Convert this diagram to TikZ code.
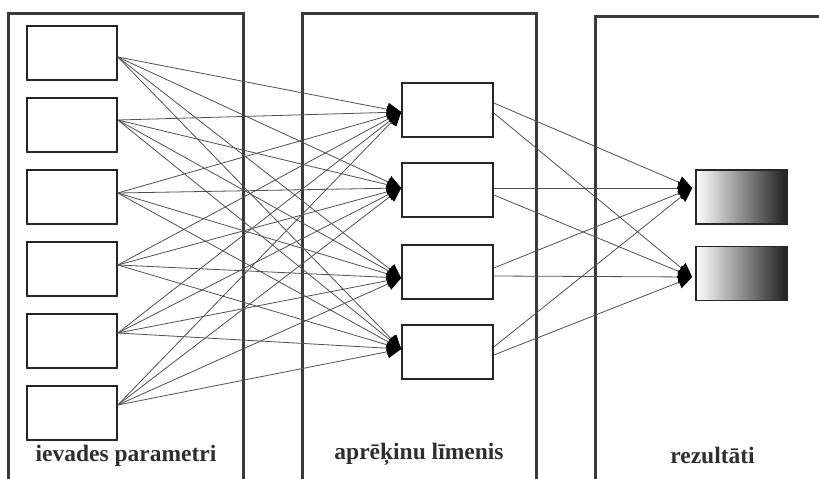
\documentclass[tikz,border=0pt]{standalone}
\usepackage{fontspec}
\setmainfont{Liberation Serif}
\usetikzlibrary{arrows.meta}
\definecolor{frame}{HTML}{3A3A3A}
\definecolor{wire}{HTML}{505050}
\definecolor{lbl}{HTML}{2E2E2E}
\tikzset{
  container/.style={draw=frame, line width=3pt},
  inbox/.style={draw=black!85, line width=1.6pt, fill=white, minimum width=90pt, minimum height=54pt, inner sep=0pt},
  outbox/.style={draw=black!85, line width=1.6pt, left color=white, right color=black!88, minimum width=91pt, minimum height=54pt, inner sep=0pt},
  conn/.style={draw=wire, line width=0.8pt, -{Triangle[length=14pt,width=13pt,color=black]}},
  title/.style={anchor=base, text=lbl, font=\fontsize{23.5}{28}\selectfont\bfseries, inner sep=0pt}
}
\begin{document}
\begin{tikzpicture}[x=1pt,y=-1pt]
\useasboundingbox (0,0) rectangle (819,479);
% containers
\draw[container] (8,482) -- (8,13) -- (243,13) -- (243,482);
\draw[container] (302,482) -- (302,13) -- (536,13) -- (536,482);
\draw[container] (595,482) -- (595,16) -- (824,16);
% input boxes
\node[inbox] (l1) at (72,53) {};
\node[inbox] (l2) at (72,125) {};
\node[inbox] (l3) at (72,197) {};
\node[inbox] (l4) at (72,269) {};
\node[inbox] (l5) at (72,341) {};
\node[inbox] (l6) at (72,413) {};
% middle boxes
\node[inbox, minimum width=91pt] (m1) at (447.5,110) {};
\node[inbox, minimum width=91pt] (m2) at (447.5,190) {};
\node[inbox, minimum width=91pt] (m3) at (447.5,272) {};
\node[inbox, minimum width=91pt] (m4) at (447.5,352) {};
% output boxes
\node[outbox] (o1) at (741.5,197) {};
\node[outbox] (o2) at (741.5,273.5) {};
% ports
\coordinate (l1o) at ([yshift=-4pt]l1.east);
\coordinate (l2o) at ([yshift=5pt]l2.east);
\coordinate (l3o) at ([yshift=4pt]l3.east);
\coordinate (l4o) at ([yshift=4pt]l4.east);
\coordinate (l5o) at ([yshift=8pt]l5.east);
\coordinate (l6o) at ([yshift=8pt]l6.east);
\coordinate (m1i) at ([yshift=-2pt]m1.west);
\coordinate (m2i) at ([yshift=2pt]m2.west);
\coordinate (m3i) at ([yshift=-6pt]m3.west);
\coordinate (m4i) at ([yshift=3pt]m4.west);
\coordinate (m1a) at ([yshift=7pt]m1.east);
\coordinate (m1b) at ([yshift=-3pt]m1.east);
\coordinate (m2a) at ([yshift=2pt]m2.east);
\coordinate (m2b) at ([yshift=-5pt]m2.east);
\coordinate (m3a) at ([yshift=4pt]m3.east);
\coordinate (m3b) at ([yshift=-4pt]m3.east);
\coordinate (m4a) at ([yshift=5pt]m4.east);
\coordinate (m4b) at ([yshift=-3pt]m4.east);
\coordinate (o1i) at ([xshift=-3pt,yshift=9pt]o1.west);
\coordinate (o2i) at ([xshift=-3pt,yshift=-3.5pt]o2.west);
% connectors input -> middle
\foreach \i in {1,...,6}{
  \foreach \j in {1,...,4}{
    \draw[conn] (l\i o) -- (m\j i);
  }
}
% connectors middle -> output
\foreach \j in {1,...,4}{
  \draw[conn] (m\j a) -- (o1i);
  \draw[conn] (m\j b) -- (o2i);
}
% labels
\node[title] (t1) at (126,461) {ievades parametri};
\node[title] (t2) at (419,459) {aprēķinu līmenis};
\node[title] (t3) at (712.5,463) {rezultāti};
\end{tikzpicture}
\end{document}
